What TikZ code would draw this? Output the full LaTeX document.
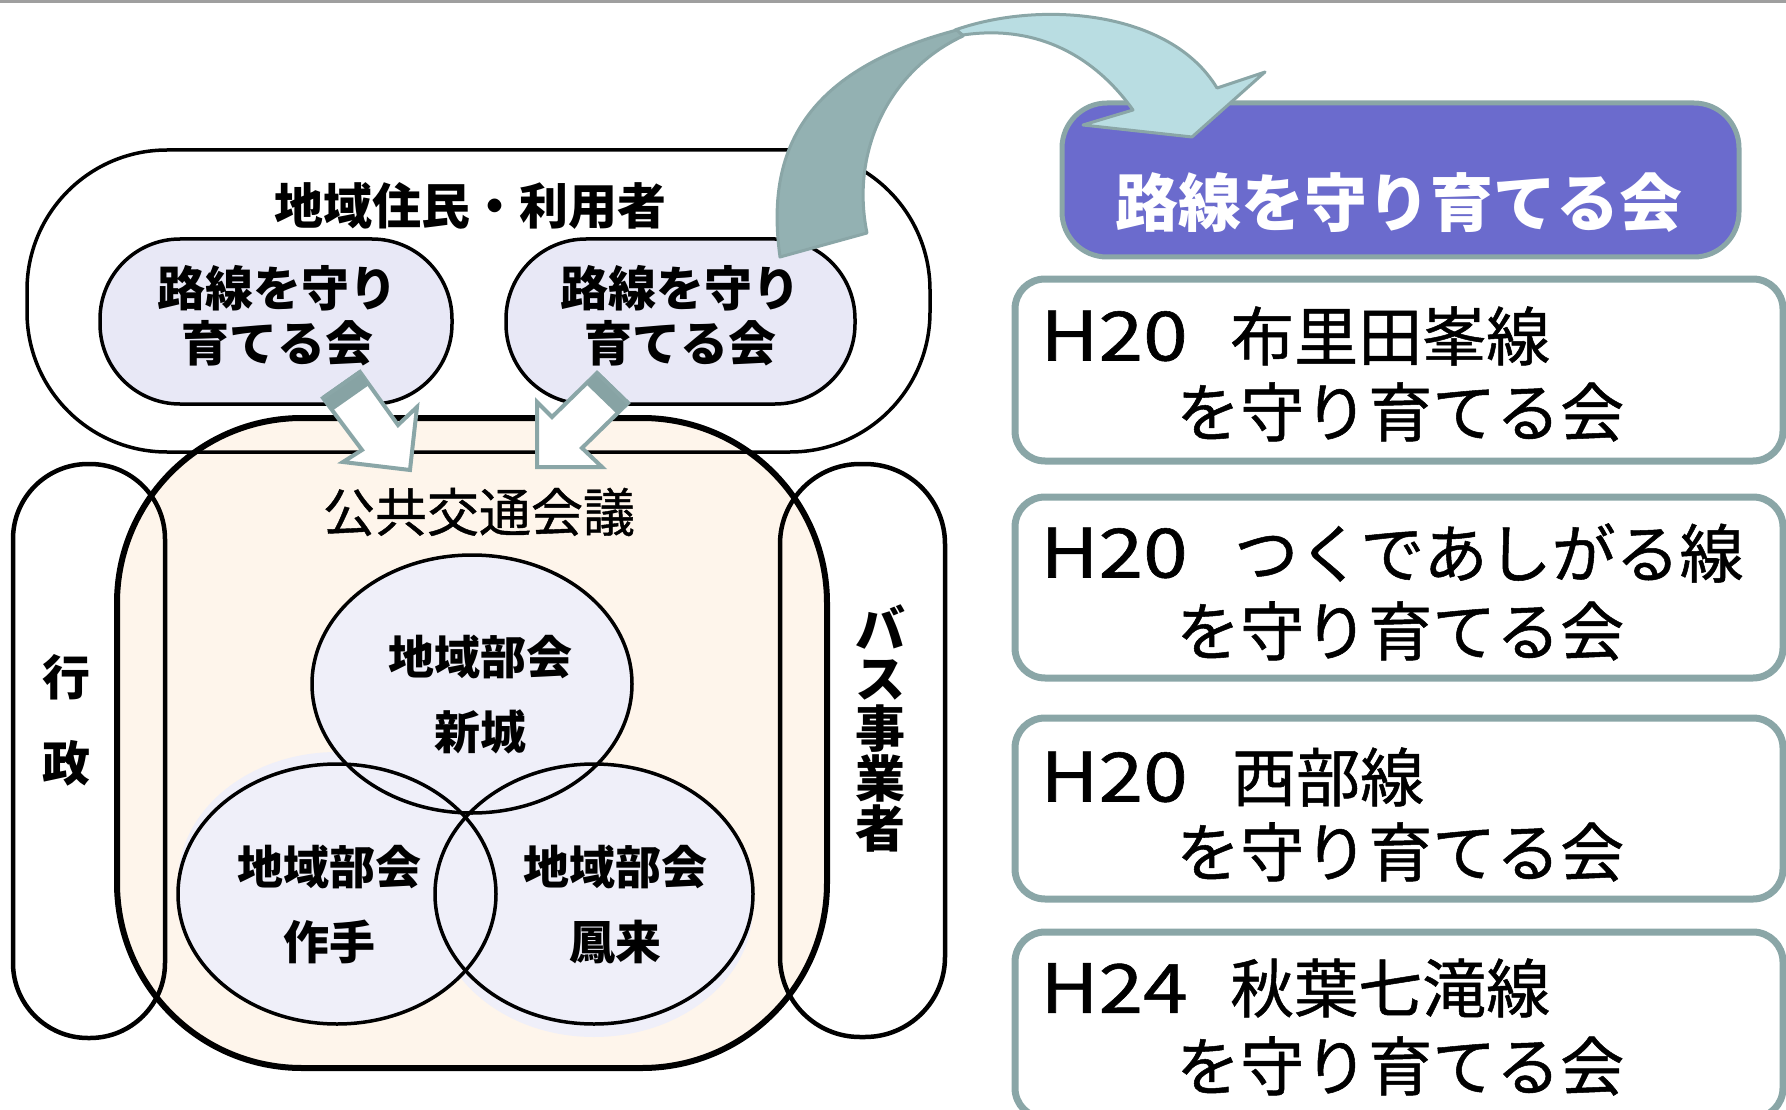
\documentclass[tikz,border=0pt]{standalone}
\usepackage{fontspec}
\setmainfont{Noto Sans CJK JP}
\newfontfamily\jpmed[FakeBold=0.8]{Noto Sans CJK JP}
\definecolor{peach}{HTML}{FEF5EB}
\definecolor{lav}{HTML}{E8E8F6}
\definecolor{lavc}{HTML}{EFEFF9}
\definecolor{edgeteal}{HTML}{8AA6A7}
\definecolor{arrdark}{HTML}{93B1B2}
\definecolor{arrlight}{HTML}{B9DDE2}
\definecolor{headdark}{HTML}{87A3A4}
\definecolor{purp}{HTML}{6B6BCD}
\begin{document}
\begin{tikzpicture}[x=1pt,y=-1pt,
  blk/.style={draw=black,line width=3.5pt},
  lbold/.style={font=\bfseries\fontsize{48}{55}\selectfont,inner sep=0pt,align=center},
  cbold/.style={font=\bfseries\fontsize{46}{75}\selectfont,inner sep=0pt,align=center},
  rtext/.style={font=\jpmed\fontsize{64}{70}\selectfont,inner sep=0pt,anchor=west},
  htext/.style={font=\jpmed\fontsize{68}{70}\selectfont,inner sep=0pt,anchor=west},
  rbox/.style={draw=edgeteal,line width=7pt,rounded corners=30pt,fill=white},
  barrow/.style={draw=edgeteal,line width=4pt,line join=miter,fill=white},
  bigarrow/.style={draw=edgeteal,line width=3pt,line join=round}
]
\useasboundingbox (0,0) rectangle (1786,1110);
\clip (0,0) rectangle (1786,1110);
\fill[gray!75] (0,0) rectangle (1786,3);

% council box fill
\fill[peach,rounded corners=185pt] (117,418) rectangle (827,1068);
% circle fills with slight halo
\fill[lavc] (337,882) ellipse [x radius=159pt, y radius=130pt];
\fill[lavc] (594,907) ellipse [x radius=159pt, y radius=130pt];
\fill[lavc] (472,684) ellipse [x radius=160pt, y radius=129pt];
\fill[lavc] (337,894) ellipse [x radius=159pt, y radius=130pt];
\fill[lavc] (594,894) ellipse [x radius=159pt, y radius=130pt];

% outlines
\draw[blk,rounded corners=140pt] (27,150) rectangle (930,452);
\draw[draw=black,line width=6pt,rounded corners=185pt] (117,418) rectangle (827,1068);
\draw[draw=black,line width=4.5pt,rounded corners=75pt] (13,464) rectangle (165,1038);
\draw[draw=black,line width=4.5pt,rounded corners=80pt] (780,464) rectangle (945,1037);
\draw[blk] (472,684) ellipse [x radius=160pt, y radius=129pt];
\draw[blk] (337,894) ellipse [x radius=159pt, y radius=130pt];
\draw[blk] (594,894) ellipse [x radius=159pt, y radius=130pt];
\draw[blk,fill=lav,rounded corners=80pt] (100,239) rectangle (452,404);
\draw[blk,fill=lav,rounded corners=80pt] (506,239) rectangle (855,404);

% left texts
\node[font=\bfseries\fontsize{49}{55}\selectfont,inner sep=0pt] (resid) at (470,206) {地域住民・利用者};
\node[lbold] (pillA) at (277,315.5) {路線を守り\\育てる会};
\node[lbold] (pillB) at (680,315.5) {路線を守り\\育てる会};
\node[font=\jpmed\fontsize{52}{55}\selectfont,inner sep=0pt] (council) at (479,512) {公共交通会議};
\node[lbold] (gyo) at (66,677) {行};
\node[lbold] (sei) at (66,763) {政};
\node[font=\bfseries\fontsize{50}{50}\selectfont,inner sep=0pt,align=center] (bus) at (880,728.5) {バ\\ス\\事\\業\\者};
\node[cbold] (shinshiro) at (480,694.5) {地域部会\\新城};
\node[cbold] (tsukude) at (329,904.5) {地域部会\\作手};
\node[cbold] (horai) at (615,904.5) {地域部会\\鳳来};

% block arrows from pills
\draw[barrow] (323,398) -- (362,450) -- (343,462) -- (410,470) -- (417,407) -- (398,425) -- (360,372) -- cycle;
\fill[headdark] (323,398) -- (360,372) -- (369,385) -- (332,411) -- cycle;
\draw[edgeteal,line width=4pt,line join=miter] (323,398) -- (360,372);
\draw[barrow] (597,373) -- (552,417) -- (537,402) -- (537,467) -- (602,467) -- (582,448) -- (628,403) -- cycle;
\fill[headdark] (597,373) -- (628,403) -- (617,414) -- (586,384) -- cycle;
\draw[edgeteal,line width=4pt] (597,373) -- (628,403);

% right side boxes
\draw[draw=edgeteal,line width=5pt,fill=purp,rounded corners=45pt] (1062,103) rectangle (1739,257);
\node[font=\bfseries\fontsize{63}{70}\selectfont,text=white,inner sep=0pt] (title) at (1399,203) {路線を守り育てる会};

\draw[rbox] (1015,279) rectangle (1783,461);
\draw[rbox] (1015,497) rectangle (1783,678);
\draw[rbox] (1015,718) rectangle (1783,899);
\draw[rbox] (1015,932) rectangle (1783,1118);

\node[htext] (h1) at (1040,336) {\scalebox{1.18}[1]{H20}};
\node[rtext] (l1) at (1230,336) {布里田峯線};
\node[rtext] (m1) at (1176,412) {を守り育てる会};
\node[htext] (h2) at (1040,553) {\scalebox{1.18}[1]{H20}};
\node[rtext] (l2) at (1234,553) {つくであしがる線};
\node[rtext] (m2) at (1176,631) {を守り育てる会};
\node[htext] (h3) at (1040,777) {\scalebox{1.18}[1]{H20}};
\node[rtext] (l3) at (1232,777) {西部線};
\node[rtext] (m3) at (1176,852) {を守り育てる会};
\node[htext] (h4) at (1040,988) {\scalebox{1.18}[1]{H24}};
\node[rtext] (l4) at (1230,988) {秋葉七滝線};
\node[rtext] (m4) at (1176,1066) {を守り育てる会};

% big curved arrow
\draw[bigarrow,fill=arrlight] (955,30) .. controls (1040,0) and (1170,10) .. (1217,88)
  -- (1265,72) -- (1192,137) -- (1083,125) -- (1133,110)
  .. controls (1090,50) and (1030,25) .. (963,35) -- cycle;
\draw[bigarrow,fill=arrdark] (780,257) .. controls (765,150) and (805,70) .. (957,30)
  -- (963,36) .. controls (890,70) and (850,150) .. (867,233) -- cycle;
\end{tikzpicture}
\end{document}
